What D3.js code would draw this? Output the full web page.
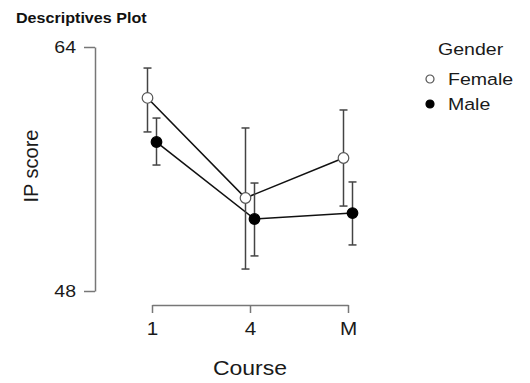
<!DOCTYPE html>
<html>
<head>
<meta charset="utf-8">
<script src="https://cdn.jsdelivr.net/npm/d3@7"></script>
<style>
  body { margin: 0; background: #fff; }
  svg text { font-family: "Liberation Sans", Arial, sans-serif; fill: #1a1a1a; }
</style>
</head>
<body>
<div id="root"></div>
<script>
// values
const courses = ["1", "4", "M"];
const yTicks = [48, 64];
const groups = ["Female", "Male"];
const femaleMean = [60.66, 54.10, 56.72];
const femaleLower = [58.43, 49.44, 53.57];
const femaleUpper = [62.62, 58.69, 59.87];
const maleMean = [57.77, 52.72, 53.11];
const maleLower = [56.26, 50.30, 51.02];
const maleUpper = [59.34, 55.08, 55.15];

const series = [
  { name: "Female", fill: "#fff", mean: femaleMean, lo: femaleLower, hi: femaleUpper, dodge: -4.5 },
  { name: "Male", fill: "#000", mean: maleMean, lo: maleLower, hi: maleUpper, dodge: 4.5 },
];

const W = 530, H = 383;
const svg = d3.select("#root").append("svg").attr("width", W).attr("height", H);

const x = d3.scalePoint().domain(courses).range([152, 348]);
const y = d3.scaleLinear().domain([48, 64]).range([291, 47]);

// the source text is a bit wider than Liberation Sans, so stretch it sideways
const SX = 1.15;
function stretch(sel) {
  sel.each(function () {
    const t = d3.select(this);
    const tx = +t.attr("x") || 0, ty = +t.attr("y") || 0;
    t.attr("x", 0).attr("y", 0)
      .attr("transform", `translate(${tx},${ty}) scale(${SX},1)`);
  });
}

// title
svg.append("text")
  .attr("x", 16).attr("y", 23)
  .style("font-size", "14px").style("font-weight", "bold")
  .style("fill", "#111")
  .text("Descriptives Plot")
  .call(stretch);

// y axis
const yAxis = svg.append("g")
  .attr("transform", "translate(95,0)")
  .call(d3.axisLeft(y).tickValues(yTicks).tickSize(11).tickPadding(8).tickSizeOuter(0));
yAxis.select(".domain").attr("stroke", "#777").attr("stroke-width", 1.5);
yAxis.selectAll(".tick line").attr("stroke", "#777").attr("stroke-width", 1.5);
yAxis.selectAll(".tick text").style("font-size", "17px").style("font-family", "Liberation Sans, Arial, sans-serif").attr("fill", "#1a1a1a").call(stretch);

// x axis
const xAxis = svg.append("g")
  .attr("transform", "translate(0,305)")
  .call(d3.axisBottom(x).tickSize(8).tickPadding(9).tickSizeOuter(0));
xAxis.select(".domain").attr("stroke", "#777").attr("stroke-width", 1.5);
xAxis.selectAll(".tick line").attr("stroke", "#777").attr("stroke-width", 1.5);
xAxis.selectAll(".tick text").style("font-size", "18px").style("font-family", "Liberation Sans, Arial, sans-serif").attr("fill", "#1a1a1a").call(stretch);

// axis titles
svg.append("text")
  .attr("transform", "translate(38,166) rotate(-90)")
  .attr("text-anchor", "middle")
  .style("font-size", "20px")
  .text("IP score");

svg.append("text")
  .attr("x", 250).attr("y", 375)
  .attr("text-anchor", "middle")
  .style("font-size", "20px")
  .text("Course")
  .call(stretch);

const plot = svg.append("g");

const line = d3.line()
  .x((d, i) => x(courses[i]))
  .y(d => y(d));

series.forEach(s => {
  plot.append("path")
    .datum(s.mean)
    .attr("transform", `translate(${s.dodge},0)`)
    .attr("fill", "none")
    .attr("stroke", "#111")
    .attr("stroke-width", 1.6)
    .attr("d", line);
});

series.forEach(s => {
  const g = plot.append("g").attr("transform", `translate(${s.dodge},0)`);
  const bars = g.selectAll(".eb").data(courses).join("g").attr("class", "eb");
  bars.append("line")
    .attr("x1", c => x(c)).attr("x2", c => x(c))
    .attr("y1", (c, i) => y(s.lo[i])).attr("y2", (c, i) => y(s.hi[i]))
    .attr("stroke", "#444").attr("stroke-width", 1.5);
  bars.append("line")
    .attr("x1", c => x(c) - 4).attr("x2", c => x(c) + 4)
    .attr("y1", (c, i) => y(s.hi[i])).attr("y2", (c, i) => y(s.hi[i]))
    .attr("stroke", "#444").attr("stroke-width", 1.5);
  bars.append("line")
    .attr("x1", c => x(c) - 4).attr("x2", c => x(c) + 4)
    .attr("y1", (c, i) => y(s.lo[i])).attr("y2", (c, i) => y(s.lo[i]))
    .attr("stroke", "#444").attr("stroke-width", 1.5);
});

series.forEach(s => {
  plot.append("g").attr("transform", `translate(${s.dodge},0)`)
    .selectAll("circle").data(s.mean).join("circle")
    .attr("cx", (d, i) => x(courses[i]))
    .attr("cy", d => y(d))
    .attr("r", 5.3)
    .attr("fill", s.fill)
    .attr("stroke", s.name === "Female" ? "#555" : "#000")
    .attr("stroke-width", 1.2);
});

// legend
const legend = svg.append("g").attr("transform", "translate(430,0)");
legend.append("text")
  .attr("x", 8).attr("y", 55)
  .style("font-size", "17px")
  .text("Gender")
  .call(stretch);
const items = legend.selectAll(".item").data(groups).join("g")
  .attr("class", "item")
  .attr("transform", (d, i) => `translate(0,${79 + i * 25})`);
items.append("circle")
  .attr("r", 4)
  .attr("fill", (d, i) => series[i].fill)
  .attr("stroke", (d, i) => i === 0 ? "#555" : "#000")
  .attr("stroke-width", 1.2);
items.append("text")
  .attr("x", 18).attr("y", 6)
  .style("font-size", "17px")
  .text(d => d)
  .call(stretch);
</script>
</body>
</html>
